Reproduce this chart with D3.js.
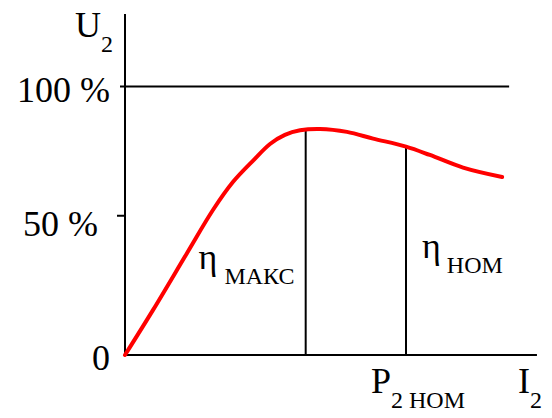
<!DOCTYPE html>
<html>
<head>
<meta charset="UTF-8">
<script src="https://d3js.org/d3.v7.min.js"></script>
</head>
<body style="margin:0">
<script>
    // current I2 in units of nominal current, efficiency in %
    const current = [0, 0.100, 0.221, 0.313, 0.384, 0.456, 0.516, 0.569, 0.623, 0.694, 0.790, 0.883, 1.0, 1.085, 1.203, 1.342];
    const efficiency = [0, 16.8, 38.0, 54.0, 64.4, 72.4, 78.6, 82.0, 83.7, 84.2, 83.1, 80.6, 77.6, 74.5, 69.8, 66.3];
    const yTicks = [0, 50, 100];
    const yTickLabels = ["0", "50 %", "100 %"];
    const markCurrent = [0.643, 1.0];      // η макс, η ном
    const markEfficiency = [83.8, 77.6];

    const svg = d3.select("body").append("svg")
        .attr("width", 552)
        .attr("height", 418);

    const x = d3.scaleLinear().domain([0, 1]).range([125, 406]);
    const y = d3.scaleLinear().domain([0, 100]).range([355, 86.5]);

    const data = current.map((c, i) => ({ c: c, e: efficiency[i] }));

    // axes
    svg.append("line")
        .attr("x1", x(0)).attr("x2", x(0))
        .attr("y1", 14).attr("y2", y(0))
        .attr("stroke", "#000").attr("stroke-width", 2);
    svg.append("line")
        .attr("x1", x(0)).attr("x2", x(1.466))
        .attr("y1", y(0)).attr("y2", y(0))
        .attr("stroke", "#000").attr("stroke-width", 2);

    // 100 % line and 50 % tick
    svg.append("line")
        .attr("x1", x(0) - 5).attr("x2", x(1.367))
        .attr("y1", y(100)).attr("y2", y(100))
        .attr("stroke", "#000").attr("stroke-width", 2);
    svg.append("line")
        .attr("x1", x(0) - 8).attr("x2", x(0))
        .attr("y1", y(50) - 5).attr("y2", y(50) - 5)
        .attr("stroke", "#000").attr("stroke-width", 2);

    // y tick labels
    const labelRight = { "0": 110, "50 %": 98, "100 %": 110 };
    yTicks.forEach((v, i) => {
        svg.append("text")
            .attr("x", labelRight[yTickLabels[i]])
            .attr("y", y(v) + 15)
            .attr("text-anchor", "end")
            .attr("font-size", 36)
            .attr("font-family", "Liberation Serif")
            .text(yTickLabels[i]);
    });

    // vertical marks
    markCurrent.forEach((c, i) => {
        svg.append("line")
            .attr("x1", x(c)).attr("x2", x(c))
            .attr("y1", y(markEfficiency[i])).attr("y2", y(0))
            .attr("stroke", "#000").attr("stroke-width", 2);
    });

    // efficiency curve
    const line = d3.line()
        .x(d => x(d.c))
        .y(d => y(d.e))
        .curve(d3.curveCatmullRom.alpha(0.5));

    svg.append("path")
        .datum(data)
        .attr("d", line)
        .attr("fill", "none")
        .attr("stroke", "#ff0000")
        .attr("stroke-width", 4)
        .attr("stroke-linecap", "round");

    // labels with subscripts
    function subLabel(px, py, main, sub, gap) {
        const t = svg.append("text").attr("x", px).attr("y", py)
            .attr("font-size", 36)
            .attr("font-family", "Liberation Serif");
        t.append("tspan").text(main);
        t.append("tspan")
            .attr("dx", gap)
            .attr("dy", 15)
            .attr("font-size", 24)
            .text(sub);
    }

    subLabel(75, 37, "U", "2", 0);
    subLabel(x(0.262), y(32), "η", "МАКС", 7);
    subLabel(x(1.057), y(36), "η", "НОМ", 6);
    subLabel(x(1) - 35, 393, "P", "2 НОМ", 0);
    subLabel(x(1.399), 393, "I", "2", 0);
</script>
</body>
</html>
